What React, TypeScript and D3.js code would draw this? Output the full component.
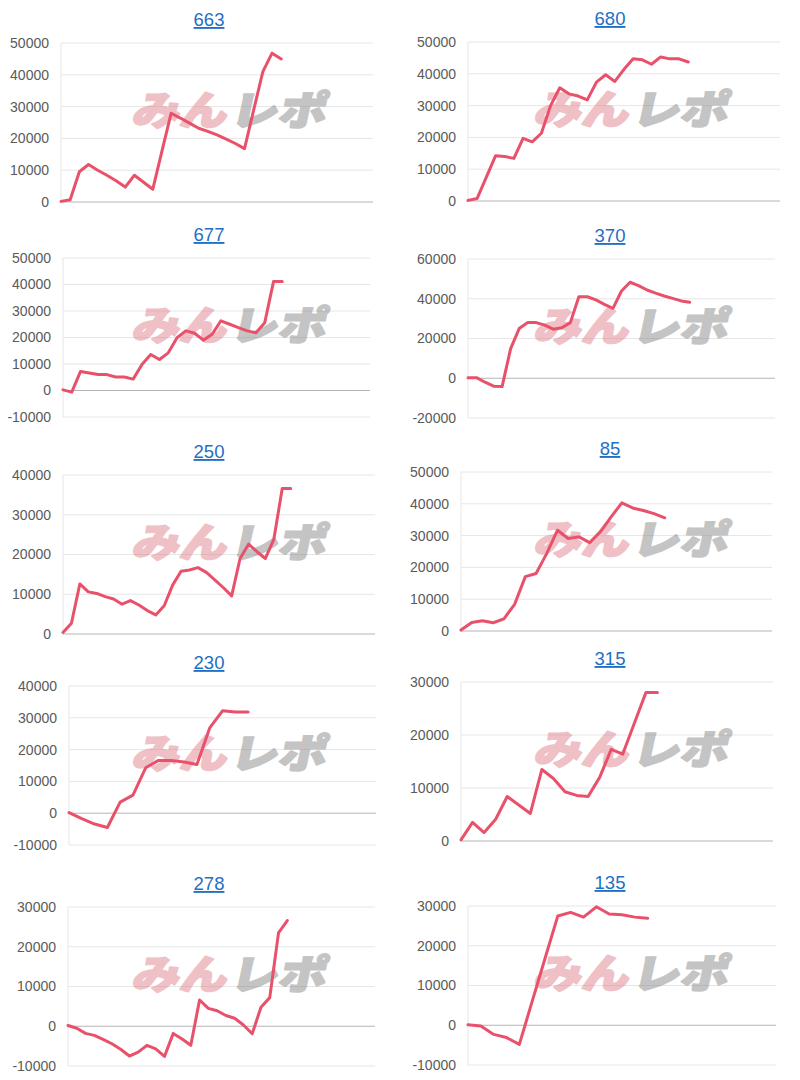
import React from "react";
import * as d3 from "d3";

// ---- data ----
const titles = ["663", "680", "677", "370", "250", "85", "230", "315", "278", "135"];

const s663 = [200, 700, 9500, 11800, 10000, 8400, 6700, 4700, 8400, 6200, 4000, 16000, 27900, 26400, 24800, 23200, 22200, 21100, 19800, 18400, 16800, 29000, 41000, 46800, 45000];
const s680 = [200, 800, 7500, 14200, 14000, 13400, 19700, 18600, 21300, 30000, 35600, 33700, 33000, 31800, 37400, 39700, 37600, 41400, 44700, 44400, 43000, 45300, 44700, 44700, 43700];
const s677 = [250, -600, 7200, 6600, 6000, 6000, 5100, 5100, 4300, 9800, 13600, 11700, 14200, 19900, 22500, 21600, 19000, 21200, 26300, 25000, 23700, 22500, 21800, 25600, 41100, 41100];
const s370 = [300, 300, -2000, -4000, -4200, 14900, 25000, 28000, 28000, 26700, 24700, 25400, 28000, 41000, 41000, 39400, 37200, 35200, 43900, 48300, 46600, 44400, 42800, 41400, 40200, 38900, 38200];
const s250 = [400, 2700, 12600, 10600, 10200, 9400, 8800, 7500, 8400, 7300, 5900, 4800, 7100, 12300, 15800, 16100, 16700, 15500, 13600, 11700, 9600, 19000, 22600, 20700, 19000, 23800, 36600, 36600];
const s85 = [300, 2700, 3200, 2600, 3800, 8400, 17100, 18100, 24400, 31700, 29100, 29600, 27800, 31200, 35900, 40300, 38700, 37900, 36900, 35600];
const s230 = [200, -1700, -3400, -4500, 3500, 5700, 14300, 16600, 16600, 16100, 15300, 26800, 32200, 31800, 31800];
const s315 = [200, 3500, 1600, 4100, 8400, 6800, 5200, 13500, 11800, 9300, 8600, 8400, 12000, 17300, 16400, 22200, 28000, 28000];
const s278 = [200, -500, -1800, -2300, -3300, -4400, -5800, -7500, -6500, -4800, -5700, -7600, -1800, -3200, -4800, 6600, 4500, 3900, 2700, 2000, 300, -1900, 4800, 7200, 23500, 26600];
const s135 = [100, -200, -2300, -3100, -4800, 6000, 16800, 27500, 28400, 27200, 29800, 28000, 27800, 27200, 26900];

const seriesList = [s663, s680, s677, s370, s250, s85, s230, s315, s278, s135];

const yMins = [0, 0, -10000, -20000, 0, 0, -10000, 0, -10000, -10000];
const yMaxs = [50000, 50000, 50000, 60000, 40000, 50000, 40000, 30000, 30000, 30000];
const ySteps = [10000, 10000, 10000, 20000, 10000, 10000, 10000, 10000, 10000, 10000];
const EMPTY_SLOTS = 10;

// ---- layout ----
const plotLefts = [61, 468, 63, 468, 63, 461, 69, 461, 68, 468];
const plotRights = [373, 780, 370, 775, 375, 772, 376, 773, 375, 776];
const plotTops = [43, 42, 258, 259, 475, 472, 686, 682, 907, 906];
const PLOT_H = 159;
const titleXs = [209, 610];
const wmCenters = [228, 630];

const LINE_COLOR = "#e9516b";
const FONT = "Arial, 'Liberation Sans', sans-serif";

function Panel({ i }: { i: number }) {
  const data = seriesList[i];
  const left = plotLefts[i];
  const right = plotRights[i];
  const top = plotTops[i];
  const bottom = top + PLOT_H;
  const col = i % 2;

  const x = d3.scaleLinear().domain([0, data.length - 1 + EMPTY_SLOTS]).range([left, right]);
  const y = d3.scaleLinear().domain([yMins[i], yMaxs[i]]).range([bottom, top]);
  const ticks = d3.range(yMins[i], yMaxs[i] + 1, ySteps[i]);

  const line = d3
    .line<number>()
    .x((_, k) => x(k))
    .y((v) => y(v));

  const wmY = top + 67;
  const wmX = wmCenters[col];
  const base = wmY + 15;

  return (
    <g>
      <text
        x={titleXs[col]}
        y={top - 17}
        textAnchor="middle"
        fontFamily={FONT}
        fontSize={18.5}
        fill="#1f6fc5"
        style={{ textDecoration: "underline" }}
      >
        {titles[i]}
      </text>
      {ticks.map((t) => (
        <g key={t}>
          <line
            x1={left}
            x2={right}
            y1={y(t)}
            y2={y(t)}
            stroke={t === 0 ? "#b5b5b5" : "#e6e6e6"}
            strokeWidth={1}
          />
          <text
            x={left - 12}
            y={y(t)}
            dy="0.35em"
            textAnchor="end"
            fontFamily={FONT}
            fontSize={14}
            fill="#5a5a5a"
          >
            {t}
          </text>
        </g>
      ))}
      <line x1={left} x2={left} y1={top} y2={bottom} stroke="#e6e6e6" strokeWidth={1} />
      {/* watermark */}
      <g
        opacity={0.5}
        fontFamily="'Noto Sans CJK JP', sans-serif"
        fontWeight={900}
        fontSize={40}
        strokeWidth={2}
        strokeLinejoin="round"
      >
        <text
          x={wmX - 97}
          y={base}
          fill="#e0848e"
          stroke="#e0848e"
          textLength={95}
          lengthAdjust="spacingAndGlyphs"
          transform={`skewX(-12) translate(${base * 0.2126},0)`}
        >
          みん
        </text>
        <text
          x={wmX + 1}
          y={base}
          fill="#8a8a8a"
          stroke="#8a8a8a"
          textLength={96}
          lengthAdjust="spacingAndGlyphs"
          transform={`skewX(-12) translate(${base * 0.2126},0)`}
        >
          レポ
        </text>
      </g>
      <path
        d={line(data) || ""}
        fill="none"
        stroke={LINE_COLOR}
        strokeWidth={3}
        strokeLinejoin="round"
        strokeLinecap="round"
      />
    </g>
  );
}

export default function App() {
  return (
    <svg
      width={800}
      height={1080}
      style={{ position: "absolute", left: 0, top: 0, background: "#fff" }}
    >
      <rect x={0} y={0} width={800} height={1080} fill="#fff" />
      {seriesList.map((_, i) => (
        <Panel key={i} i={i} />
      ))}
    </svg>
  );
}
